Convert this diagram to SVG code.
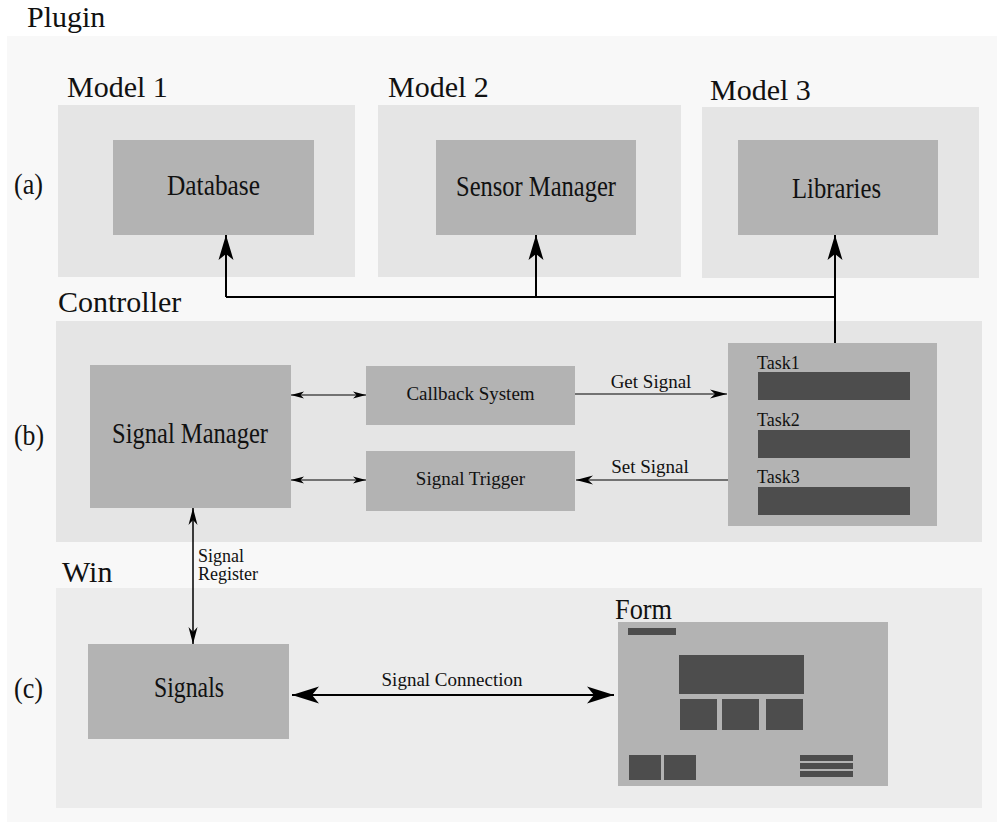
<svg xmlns="http://www.w3.org/2000/svg" width="1002" height="834" viewBox="0 0 1002 834">
  <style>
    text { fill: #111; }
    .sm { font-family: 'Liberation Serif', serif; font-size: 19px; text-anchor: middle; }
    .tk { font-family: 'Liberation Serif', serif; font-size: 18px; }
    .lb { font-family: 'Liberation Serif', serif; font-size: 18px; }
    .region { fill: #e5e5e5; }
    .box { fill: #b3b3b3; }
    .dark { fill: #4d4d4d; }
    .wire { fill: none; stroke: #000; }
    .bus { stroke-width: 2; }
    .thin { stroke-width: 1.2; }
    .mid { stroke-width: 1.5; }
    .thick { stroke-width: 2.2; }
  </style>
  <defs>
    <marker id="headBig" markerUnits="userSpaceOnUse" viewBox="-26 -9 27 18" refX="0" refY="0" markerWidth="27" markerHeight="18" orient="auto-start-reverse">
      <path d="M0,0 L-25,-7.5 L-19,0 L-25,7.5 Z" fill="#000"/>
    </marker>
    <marker id="headSmall" markerUnits="userSpaceOnUse" viewBox="-14 -5 15 10" refX="0" refY="0" markerWidth="15" markerHeight="10" orient="auto-start-reverse">
      <path d="M0,0 L-13,-3.6 L-9.5,0 L-13,3.6 Z" fill="#000"/>
    </marker>
    <marker id="headMid" markerUnits="userSpaceOnUse" viewBox="-18 -6 19 12" refX="0" refY="0" markerWidth="19" markerHeight="12" orient="auto-start-reverse">
      <path d="M0,0 L-17,-4.5 L-12,0 L-17,4.5 Z" fill="#000"/>
    </marker>
    <marker id="headWide" markerUnits="userSpaceOnUse" viewBox="-29 -10 30 20" refX="0" refY="0" markerWidth="30" markerHeight="20" orient="auto-start-reverse">
      <path d="M0,0 L-27,-8.5 L-20,0 L-27,8.5 Z" fill="#000"/>
    </marker>
  </defs>

  <rect width="1002" height="834" fill="#ffffff"/>

  <!-- Plugin container -->
  <g id="plugin">
    <rect x="7" y="36" width="990" height="786" fill="#f8f8f8"/>
    <text font-family="Liberation Serif" font-size="30" x="27" y="27">Plugin</text>
    <text font-family="Liberation Serif" font-size="30" x="14" y="194" textLength="29" lengthAdjust="spacingAndGlyphs">(a)</text>
    <text font-family="Liberation Serif" font-size="30" x="14" y="445" textLength="30" lengthAdjust="spacingAndGlyphs">(b)</text>
    <text font-family="Liberation Serif" font-size="30" x="14" y="698" textLength="29" lengthAdjust="spacingAndGlyphs">(c)</text>
  </g>

  <!-- (a) models -->
  <g id="model1">
    <rect class="region" x="58" y="105" width="297" height="172"/>
    <text font-family="Liberation Serif" font-size="30" x="67" y="97">Model 1</text>
  </g>
  <g id="database">
    <rect class="box" x="113" y="140" width="201" height="95"/>
    <text font-family="Liberation Serif" font-size="30" x="167" y="195" textLength="93" lengthAdjust="spacingAndGlyphs">Database</text>
  </g>
  <g id="model2">
    <rect class="region" x="378" y="105" width="303" height="172"/>
    <text font-family="Liberation Serif" font-size="30" x="388" y="97">Model 2</text>
  </g>
  <g id="sensor-manager">
    <rect class="box" x="436" y="140" width="200" height="95"/>
    <text font-family="Liberation Serif" font-size="30" x="456" y="196" textLength="160" lengthAdjust="spacingAndGlyphs">Sensor Manager</text>
  </g>
  <g id="model3">
    <rect class="region" x="702" y="107" width="277" height="171"/>
    <text font-family="Liberation Serif" font-size="30" x="710" y="100">Model 3</text>
  </g>
  <g id="libraries">
    <rect class="box" x="738" y="140" width="200" height="95"/>
    <text font-family="Liberation Serif" font-size="30" x="792" y="198" textLength="89" lengthAdjust="spacingAndGlyphs">Libraries</text>
  </g>

  <!-- (b) controller -->
  <g id="controller">
    <rect class="region" x="56" y="321" width="926" height="221"/>
    <text font-family="Liberation Serif" font-size="30" x="58" y="312">Controller</text>
  </g>
  <g id="signal-manager">
    <rect class="box" x="90" y="365" width="201" height="143"/>
    <text font-family="Liberation Serif" font-size="30" x="112" y="443" textLength="156" lengthAdjust="spacingAndGlyphs">Signal Manager</text>
  </g>
  <g id="callback-system">
    <rect class="box" x="366" y="366" width="209" height="59"/>
    <text class="sm" x="470.5" y="400">Callback System</text>
  </g>
  <g id="signal-trigger">
    <rect class="box" x="366" y="451" width="209" height="60"/>
    <text class="sm" x="470.5" y="485">Signal Trigger</text>
  </g>
  <g id="tasks">
    <rect class="box" x="728" y="343" width="209" height="183"/>
    <text class="tk" x="757" y="369">Task1</text>
    <rect class="dark" x="758" y="372" width="152" height="28"/>
    <text class="tk" x="757" y="426">Task2</text>
    <rect class="dark" x="758" y="430" width="152" height="28"/>
    <text class="tk" x="757" y="483">Task3</text>
    <rect class="dark" x="758" y="487" width="152" height="28"/>
  </g>

  <!-- (c) window -->
  <g id="win">
    <rect x="56" y="588" width="926" height="220" fill="#ececec"/>
    <text font-family="Liberation Serif" font-size="30" x="62" y="582">Win</text>
  </g>
  <g id="signals">
    <rect class="box" x="88" y="644" width="201" height="95"/>
    <text font-family="Liberation Serif" font-size="30" x="154" y="697" textLength="70" lengthAdjust="spacingAndGlyphs">Signals</text>
  </g>
  <g id="form">
    <text font-family="Liberation Serif" font-size="30" x="615" y="619" textLength="57" lengthAdjust="spacingAndGlyphs">Form</text>
    <rect class="box" x="618" y="622" width="270" height="164"/>
    <rect class="dark" x="628" y="628" width="48" height="7"/>
    <rect class="dark" x="679" y="655" width="125" height="39"/>
    <rect class="dark" x="680" y="699" width="37" height="31"/>
    <rect class="dark" x="722" y="699" width="37" height="31"/>
    <rect class="dark" x="766" y="699" width="37" height="31"/>
    <rect class="dark" x="629" y="755" width="32" height="25"/>
    <rect class="dark" x="664" y="755" width="32" height="25"/>
    <rect class="dark" x="800" y="755" width="53" height="6"/>
    <rect class="dark" x="800" y="763" width="53" height="6"/>
    <rect class="dark" x="800" y="771" width="53" height="6"/>
  </g>

  <!-- connectors -->
  <g id="connectors">
    <path class="wire bus" d="M226,297 H835"/>
    <path class="wire bus" d="M226,297 V235" marker-end="url(#headBig)"/>
    <path class="wire bus" d="M536,297 V235" marker-end="url(#headBig)"/>
    <path class="wire bus" d="M835,343 V235" marker-end="url(#headBig)"/>

    <path class="wire thin" d="M291,395 H366" marker-start="url(#headSmall)" marker-end="url(#headSmall)"/>
    <path class="wire thin" d="M291,480 H366" marker-start="url(#headSmall)" marker-end="url(#headSmall)"/>

    <path class="wire thin" d="M575,394 H727" marker-end="url(#headMid)"/>
    <text class="sm" x="651" y="388" font-size="18">Get Signal</text>
    <path class="wire thin" d="M728,480 H576" marker-end="url(#headMid)"/>
    <text class="sm" x="650" y="473" font-size="18">Set Signal</text>

    <path class="wire mid" d="M193,508 V644" marker-start="url(#headMid)" marker-end="url(#headMid)"/>
    <text class="lb" x="198" y="562">Signal</text>
    <text class="lb" x="198" y="580">Register</text>

    <path class="wire thick" d="M292,695 H614" marker-start="url(#headWide)" marker-end="url(#headWide)"/>
    <text class="sm" x="452" y="686">Signal Connection</text>
  </g>
</svg>
